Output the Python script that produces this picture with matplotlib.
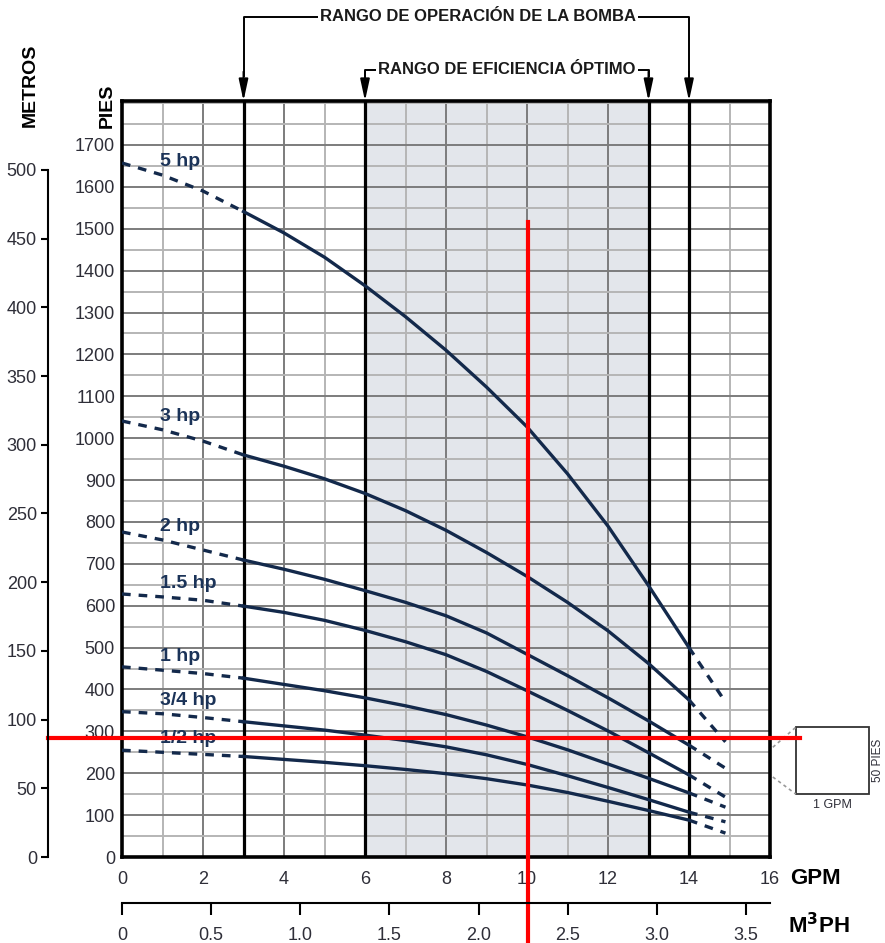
import numpy as np
import matplotlib.pyplot as plt
from matplotlib.patches import Rectangle

plt.rcParams['font.family'] = ['Liberation Sans Narrow', 'Liberation Sans', 'DejaVu Sans']

# caudal (GPM) where the head values were read
gpm = [0, 1, 2, 3, 4, 5, 6, 7, 8, 9, 10, 11, 12, 13, 14, 14.9]

# altura (pies) for each motor
head_5hp = [1657, 1628, 1590, 1541, 1490, 1432, 1364, 1290, 1210, 1122, 1027, 915, 790, 648, 500, 370]
head_3hp = [1041, 1020, 993, 960, 933, 903, 868, 827, 780, 727, 670, 608, 540, 462, 375, 275]
head_2hp = [776, 757, 733, 709, 687, 663, 636, 608, 576, 535, 484, 433, 380, 325, 267, 212]
head_15hp = [628, 621, 613, 599, 584, 565, 541, 514, 483, 443, 397, 350, 301, 249, 196, 143]
head_1hp = [454, 446, 438, 427, 412, 397, 380, 361, 340, 315, 287, 256, 222, 188, 153, 119]
head_34hp = [347, 342, 333, 323, 313, 303, 291, 278, 263, 244, 221, 194, 166, 137, 107, 84]
head_12hp = [255, 250, 245, 240, 233, 226, 218, 209, 199, 187, 172, 154, 133, 111, 88, 57]

curves = [head_5hp, head_3hp, head_2hp, head_15hp, head_1hp, head_34hp, head_12hp]
curve_labels = ['5 hp', '3 hp', '2 hp', '1.5 hp', '1 hp', '3/4 hp', '1/2 hp']

op_range = (3, 14)      # rango de operacion
eff_range = (6, 13)     # rango de eficiencia optimo

# punto marcado en rojo
sel_flow = 10.02
sel_head = 285

metros_ticks = list(range(0, 501, 50))
m3ph_ticks = [0, 0.5, 1.0, 1.5, 2.0, 2.5, 3.0, 3.5]
m3ph_labels = ['0', '0.5', '1.0', '1.5', '2.0', '2.5', '3.0', '3.5']

FT_TO_M = 0.3048
GPM_PER_M3H = 4.40287
YTOP = 1805

navy = '#13294b'
txt = '#2e2e38'

fig = plt.figure(figsize=(8.85, 9.43), dpi=100)
ax = fig.add_axes([122 / 885, 86 / 943, 648 / 885, 756 / 943])
ax.set_xlim(0, 16)
ax.set_ylim(0, YTOP)

# grid
ax.set_xticks(range(0, 17, 2))
ax.set_xticks(range(0, 17, 1), minor=True)
ax.set_yticks(range(0, 1701, 100))
ax.set_yticks(range(0, 1801, 50), minor=True)
ax.set_axisbelow(True)
ax.grid(which='major', color='#7c7c7c', lw=1.4)
ax.grid(which='minor', color='#b5b5b5', lw=1.4)
ax.tick_params(which='both', length=0)
ax.tick_params(axis='y', pad=5, labelsize=13, labelcolor=txt)
ax.tick_params(axis='x', pad=10, labelsize=13, labelcolor=txt)
for s in ax.spines.values():
    s.set_linewidth(2.6)

ax.axvspan(*eff_range, color='#e3e6eb', zorder=0)
for xv in list(op_range) + list(eff_range):
    ax.axvline(xv, color='black', lw=2.3, zorder=3)

# curvas
g = np.array(gpm)
for h, lab in zip(curves, curve_labels):
    h = np.array(h)
    left = g <= op_range[0]
    mid = (g >= op_range[0]) & (g <= op_range[1])
    right = g >= op_range[1]
    ax.plot(g[left], h[left], color=navy, lw=2.4, ls=(0, (2.6, 2.4)), zorder=4)
    ax.plot(g[mid], h[mid], color=navy, lw=2.4, zorder=4, solid_joinstyle='round')
    ax.plot(g[right], h[right], color=navy, lw=2.4, ls=(0, (2.6, 2.4)), zorder=4)
    ax.text(0.95, h[1] + 32, lab, color='#1b3358', fontsize=14, fontweight='bold',
            family=['Liberation Sans', 'DejaVu Sans'], ha='left', va='center', zorder=5)

# brackets arriba
def bracket(x0, x1, yb, label, xc):
    ax.plot([x0, x0, x1, x1], [YTOP + 60, yb, yb, YTOP + 60], color='black', lw=1.4,
            clip_on=False, zorder=6)
    for xv in (x0, x1):
        ax.annotate('', xy=(xv, YTOP), xytext=(xv, YTOP + 70), annotation_clip=False,
                    arrowprops=dict(arrowstyle='-|>,head_length=1.3,head_width=0.28',
                                    color='black', lw=1.4, shrinkA=0, shrinkB=0))
    ax.text(xc, yb, label, ha='center', va='center', fontsize=12, fontweight='bold',
            color='#1a1a1a', clip_on=False, zorder=8,
            bbox=dict(facecolor='white', edgecolor='none', pad=1.5))

bracket(op_range[0], op_range[1], 2006, 'RANGO DE OPERACIÓN DE LA BOMBA', 8.8)
bracket(eff_range[0], eff_range[1], 1880, 'RANGO DE EFICIENCIA ÓPTIMO', 9.5)

# lineas rojas
ax.plot([sel_flow, sel_flow], [1516, -205], color='red', lw=3, clip_on=False, zorder=10)
ax.plot([-1.83, 16.74], [sel_head, sel_head], color='red', lw=3, clip_on=False, zorder=10)

# eje metros
ax2 = ax.twinx()
ax2.set_ylim(0, YTOP * FT_TO_M)
for k in ('right', 'top', 'bottom'):
    ax2.spines[k].set_visible(False)
ax2.spines['left'].set_position(('axes', -74 / 648))
ax2.spines['left'].set_bounds(0, 500)
ax2.spines['left'].set_linewidth(1.5)
ax2.yaxis.set_ticks_position('left')
ax2.set_yticks(metros_ticks)
ax2.tick_params(axis='y', length=5, width=1.5, pad=3, labelsize=13, labelcolor=txt)

# eje M3PH
ax3 = ax.twiny()
ax3.set_xlim(0, 16 / GPM_PER_M3H)
for k in ('right', 'top', 'left'):
    ax3.spines[k].set_visible(False)
ax3.spines['bottom'].set_position(('axes', -46 / 756))
ax3.spines['bottom'].set_linewidth(1.5)
ax3.xaxis.set_ticks_position('bottom')
ax3.set_xticks(m3ph_ticks)
ax3.set_xticklabels(m3ph_labels)
ax3.tick_params(axis='x', length=8.5, width=1.5, pad=9, labelsize=13, labelcolor=txt)

# etiquetas de ejes
fig.text(30 / 885, 1 - 85 / 943, 'METROS', rotation=90, ha='center', va='center',
         fontsize=14, fontweight='bold')
fig.text(107 / 885, 1 - 106 / 943, 'PIES', rotation=90, ha='center', va='center',
         fontsize=14, fontweight='bold')
fig.text(790 / 885, 1 - 878 / 943, 'GPM', ha='left', va='center', fontsize=16, fontweight='bold')
fig.text(788 / 885, 1 - 926 / 943, 'M$^\\mathbf{3}$PH', ha='left', va='center', fontsize=16,
         fontweight='bold')

# escala 1 GPM x 50 pies
ax.add_patch(Rectangle((16.64, 150), 1.8, 160, fill=False, edgecolor='#333333', lw=1.3,
                       clip_on=False))
ax.plot([16.07, 16.64], [262, 310], color='#999999', lw=1.2, ls=(0, (2, 2)), clip_on=False)
ax.plot([16.07, 16.64], [191, 150], color='#999999', lw=1.2, ls=(0, (2, 2)), clip_on=False)
ax.text(17.54, 125, '1 GPM', ha='center', va='center', fontsize=9, color=txt, clip_on=False)
ax.text(18.66, 230, '50 PIES', ha='center', va='center', rotation=90, fontsize=8.5,
        color=txt, clip_on=False)

fig.savefig('out.png', dpi=100)
